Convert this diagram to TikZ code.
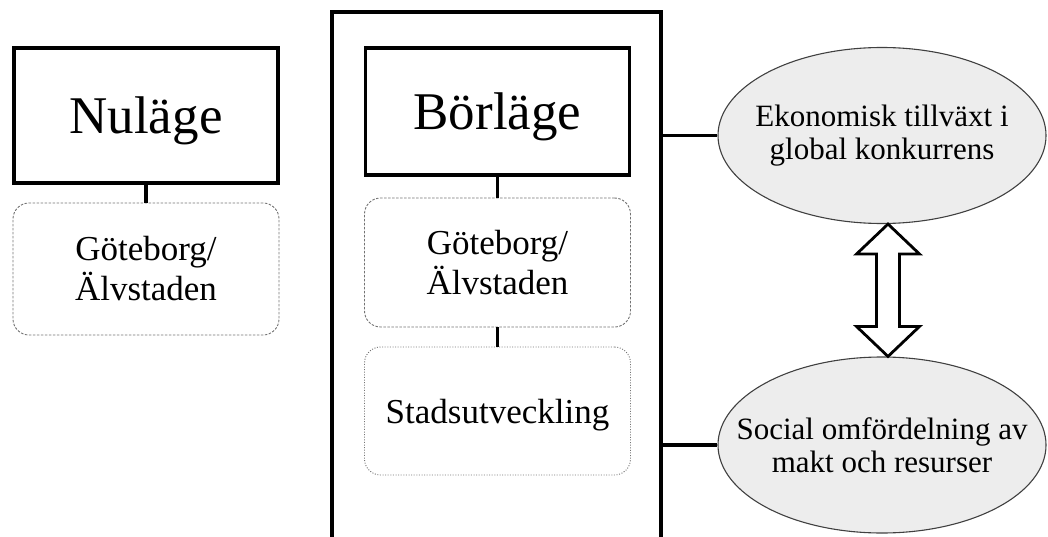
\documentclass[tikz,border=0pt]{standalone}
\usepackage{fontspec}
\setmainfont{Liberation Serif}
\usetikzlibrary{shapes.geometric}
\usetikzlibrary{calc}

\begin{document}
\begin{tikzpicture}[x=1pt, y=-1pt,
  lagebox/.style={draw, line width=3.2pt, minimum width=264, minimum height=130, text depth=0pt, font=\fontsize{53}{60}\selectfont},
  platsbox/.style={draw=black!55, line width=0.9pt, dash pattern=on 2.5pt off 1.5pt, rounded corners=16pt, minimum width=266, minimum height=130, align=center, font=\fontsize{35}{40}\selectfont},
  malbox/.style={ellipse, draw=black!75, line width=1.1pt, fill=gray!14, minimum width=328, minimum height=176, inner xsep=-30pt, inner ysep=0pt, align=center, font=\fontsize{31}{33}\selectfont},
  link/.style={line width=3.2pt},
  bigarrow/.style={draw, line width=2.8pt, fill=white, line join=miter}]
\useasboundingbox (0,0) rectangle (1048,537);

\node[lagebox, minimum height=135] (nu) at (146,115.5) {Nuläge};
\node[platsbox, minimum height=132] (nuplats) at (146,269) {Göteborg/\\Älvstaden};
\draw[link] (nu.south) -- (nuplats.north);

% ramen runt börläget
\draw[link] (332,537) -- (332,12) -- (661,12) -- (661,537);
\coordinate (fr) at (661,300);

\node[lagebox, minimum height=127] (bor) at (497.5,111.5) {Börläge};
\node[platsbox, minimum height=129] (borplats) at (497.5,262.5) {Göteborg/\\Älvstaden};
\node[platsbox, dash pattern=on 1pt off 1.6pt, minimum height=128, text depth=0pt] (stad) at (497.5,411) {Stadsutveckling};
\draw[link] (bor.south) -- (borplats.north);
\draw[link] (borplats.south) -- (stad.north);

\node[malbox] (eko) at (882,135.5) {Ekonomisk tillväxt i\\global konkurrens};
\node[malbox] (soc) at (882,445) {Social omfördelning av\\makt och resurser};
\draw[link] (eko.west -| fr) -- (eko.west);
\draw[link] (soc.west -| fr) -- (soc.west);

\draw[bigarrow] ($(eko.south)+(6,0)$) -- ++(31.5,30) -- ++(-20,0) -- ($(soc.north)+(17.5,-30)$) -- ++(20,0)
  -- ($(soc.north)+(6,0)$) -- ++(-31.5,-30) -- ++(20,0) -- ($(eko.south)+(-5.5,30)$) -- ++(-20,0) -- cycle;
\end{tikzpicture}
\end{document}
